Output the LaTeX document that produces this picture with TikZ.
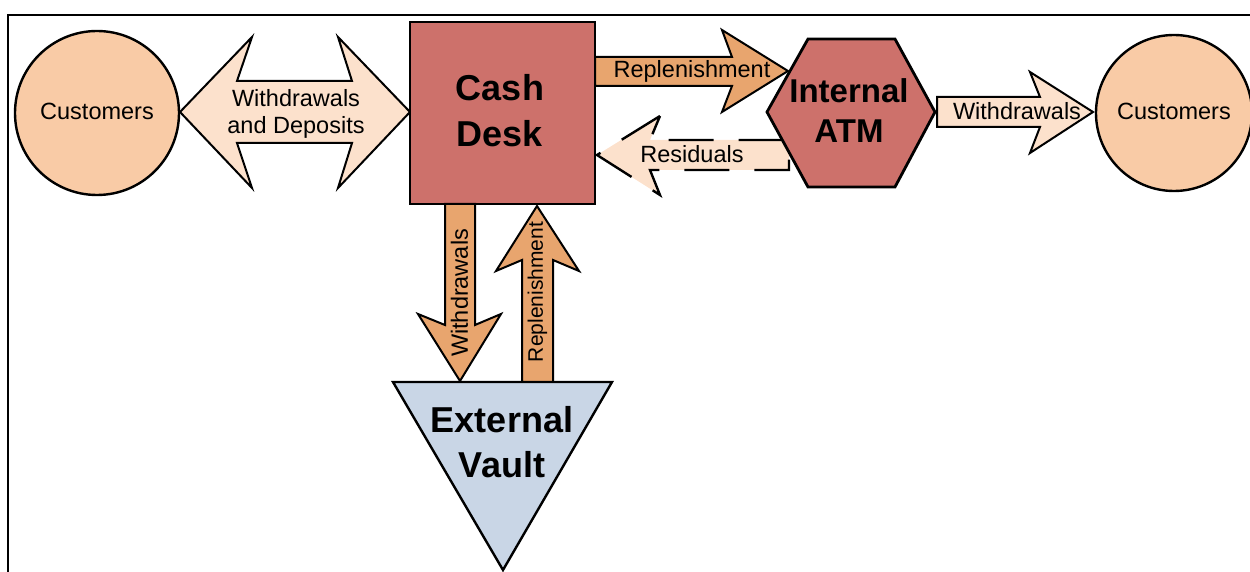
\documentclass[tikz,border=0pt]{standalone}
\usepackage{fontspec}
\setmainfont{Liberation Sans}
\begin{document}
\begin{tikzpicture}[x=0.5pt,y=-0.5pt,
  line join=miter,
  lbl/.style={inner sep=0pt,font=\fontsize{11.75}{13.5}\selectfont,align=center},
  big/.style={inner sep=0pt,font=\bfseries\fontsize{18}{23}\selectfont,align=center},
  arrowlight/.style={draw=black,line width=1pt,fill=lightpeach},
  arroworange/.style={draw=black,line width=1pt,fill=orangeA},
  party/.style={circle,draw=black,line width=1.2pt,fill=peach,minimum size=82pt,inner sep=0pt,font=\fontsize{11.75}{13.5}\selectfont}]
\definecolor{peach}{HTML}{F9CBA6}
\definecolor{lightpeach}{HTML}{FCE1CC}
\definecolor{orangeA}{HTML}{E8A56E}
\definecolor{deskred}{HTML}{CD716B}
\definecolor{vaultblue}{HTML}{C9D6E6}
\useasboundingbox (0,0) rectangle (1250,572);
% frame
\draw[line width=1pt] (8,572) -- (8,15) -- (1250,15);

% customers on both sides
\node[party] (custL) at (97,113) {};
\node[lbl] (custLtxt) at (97,111) {Customers};
\node[party,minimum size=78pt] (custR) at (1174,113) {};
\node[lbl] (custRtxt) at (1174,111) {Customers};

% withdrawals and deposits double arrow
\draw[arrowlight] (180,112) -- (252,37) -- (237,81) -- (352,81) -- (338,37) -- (410,112)
  -- (338,188) -- (352,143) -- (237,143) -- (252,188) -- cycle;
\node[lbl] (wd) at (296,113.5) {Withdrawals\\and Deposits};

% cash desk
\node[draw=black,line width=1.4pt,fill=deskred,minimum width=92.5pt,minimum height=91pt,inner sep=0pt] (desk) at (502.5,113) {};
\node[big] (desktxt) at (500,111) {Cash\\Desk};

% residuals (dashed) back to the desk
\draw[arrowlight,line width=1.2pt,dash pattern=on 22.5pt off 12.5pt] (660,116) -- (597,155) -- (660,195) -- (650,170)
  -- (789,170) -- (789,140) -- (650,140) -- cycle;
\node[lbl] (res) at (692,154) {Residuals};

% internal ATM
\draw[line width=1.4pt,fill=deskred] (767,112) -- (808,39) -- (895,39) -- (935,112)
  -- (895,187) -- (808,187) -- cycle;
\node[inner sep=0pt,font=\bfseries\fontsize{16.5}{20}\selectfont,align=center] (atm) at (849,111) {Internal\\ATM};

% replenishment desk -> ATM
\draw[arroworange] (595,57) -- (732,57) -- (722,30) -- (788,71) -- (722,112) -- (732,86) -- (595,86) -- cycle;
\node[lbl] (rep) at (692,71) {Replenishment};

% ATM withdrawals -> customers
\draw[arrowlight] (937,97) -- (1040,97) -- (1030,72) -- (1093,112) -- (1030,153) -- (1040,127) -- (937,127) -- cycle;
\node[lbl] (wdR) at (1017,111.5) {Withdrawals};

% external vault
\draw[line width=1.2pt,fill=vaultblue] (393,382) -- (612,382) -- (503,570) -- cycle;
\node[big,font=\bfseries\fontsize{18}{22.5}\selectfont] (vault) at (502,442.5) {External\\Vault};

% desk <-> vault
\draw[arroworange] (445,204) -- (445,325) -- (418,314) -- (460,381) -- (501,314) -- (475,325) -- (475,204) -- cycle;
\node[lbl,rotate=90] (wdV) at (459.5,293) {Withdrawals};
\draw[arroworange] (522,382) -- (522,260) -- (496,271) -- (537,206) -- (579,271) -- (553,260) -- (553,382) -- cycle;
\node[lbl,rotate=90,font=\fontsize{10.5}{12}\selectfont] (repV) at (537.5,292) {Replenishment};
\end{tikzpicture}
\end{document}
